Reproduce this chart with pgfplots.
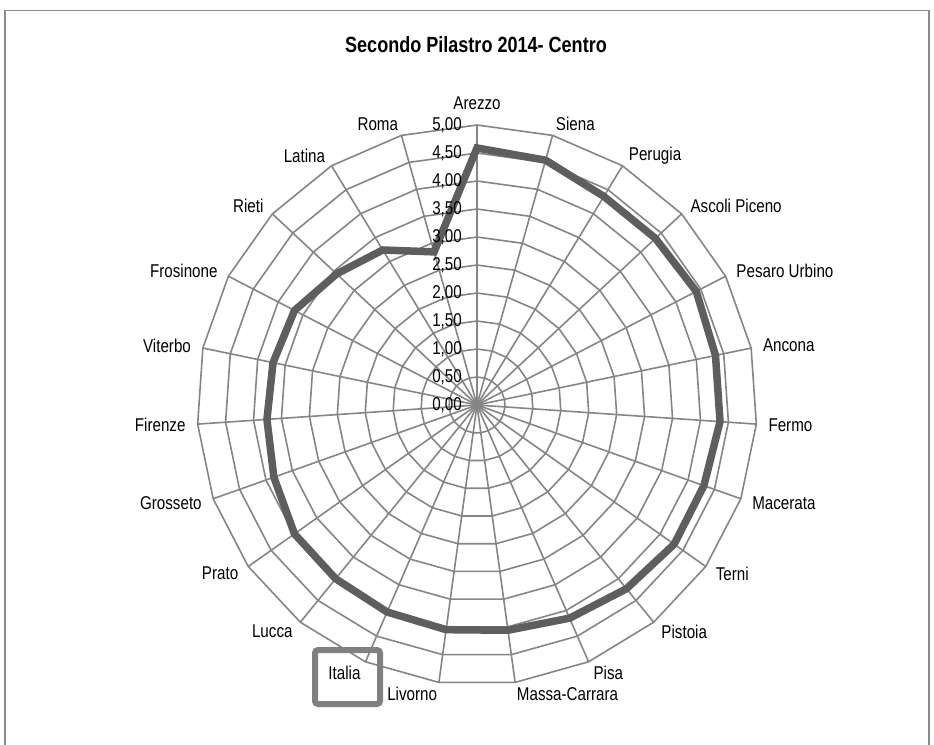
\documentclass[border=0pt]{standalone}
\usepackage{fontspec}
\setmainfont{Liberation Sans}[FakeStretch=0.82]
\usepackage{pgfplots}
\usepackage{pgfplotstable}
\pgfplotsset{compat=1.18}
\usepgfplotslibrary{polar}
\usetikzlibrary{calc}
\definecolor{gridgray}{HTML}{858585}
\definecolor{linegray}{HTML}{5E5E5E}
\definecolor{framegray}{HTML}{8C8C8C}
\definecolor{boxgray}{HTML}{808080}

% idx: position clockwise from the top (Arezzo = 0), 23 categories
\pgfplotstableread{
idx value
0  4.59
1  4.54
2  4.36
3  4.36
4  4.41
5  4.35
6  4.35
7  4.30
8  4.31
9  4.23
10 4.15
11 4.06
12 4.05
13 4.03
14 4.00
15 3.99
16 3.85
17 3.76
18 3.72
19 3.67
20 3.43
21 3.24
22 2.84
}\centro

\begin{document}
\begin{tikzpicture}
\fontsize{18.5}{21}\selectfont
\draw[framegray, line width=1.5pt] (5pt,-10.5pt) rectangle (929pt,-760pt);
\node[font=\fontsize{22}{24}\selectfont\bfseries] at (476pt,-44.5pt) {Secondo Pilastro 2014- Centro};

\begin{polaraxis}[
    hide axis,
    scale only axis,
    width=560pt, height=560pt,
    xmin=0, xmax=360, ymin=0, ymax=5,
    at={(477pt,-405pt)}, anchor=origin,
    clip=false,
]
\pgfplotsextra{
  % polygon rings
  \foreach \r in {0.5,1,...,5} {
    \draw[gridgray, line width=1.6pt, line join=miter] (axis cs:90,\r)
      \foreach \k [evaluate=\k as \a using {90-\k*360/23}] in {1,...,22} { -- (axis cs:\a,\r) } -- cycle;
  }
  % spokes
  \foreach \k [evaluate=\k as \a using {90-\k*360/23}] in {0,...,22} {
    \draw[gridgray, line width=1.6pt] (axis cs:0,0) -- (axis cs:\a,5);
  }
}
\addplot[linegray, line width=7.5pt, line join=miter, mark=none]
  table[x expr={90-\thisrow{idx}*360/23}, y=value] {\centro} -- cycle;
\pgfplotsextra{
  % value labels on the Arezzo spoke
  \foreach \r/\t in {0/{0,00},0.5/{0,50},1/{1,00},1.5/{1,50},2/{2,00},2.5/{2,50},3/{3,00},3.5/{3,50},4/{4,00},4.5/{4,50},5/{5,00}} {
    \node[anchor=east, inner sep=0pt] at ($(axis cs:90,\r)+(-15pt,0)$) {\t};
  }
  \node[anchor=south, inner sep=0pt] at ($(axis cs:90,5)+(0,15pt)$) {Arezzo};
  \foreach \k/\name in {1/Siena,2/Perugia,3/Ascoli Piceno,4/Pesaro Urbino,5/Ancona,6/Fermo,7/Macerata,8/Terni,9/Pistoia,10/Pisa,11/Massa-Carrara} {
    \pgfmathsetmacro\a{90-\k*360/23}
    \node[anchor=west, inner sep=0pt] at ($(axis cs:\a,5)+(\a:12pt)$) {\name};
  }
  \foreach \k/\name in {12/Livorno,13/Italia,14/Lucca,15/Prato,16/Grosseto,17/Firenze,18/Viterbo,19/Frosinone,20/Rieti,21/Latina,22/Roma} {
    \pgfmathsetmacro\a{90-\k*360/23}
    \node[anchor=east, inner sep=0pt] at ($(axis cs:\a,5)+(\a:12pt)$) {\name};
  }
}
\end{polaraxis}

\draw[boxgray, line width=6pt, rounded corners=3pt] (315pt,-650pt) rectangle (380pt,-704pt);

\pgfresetboundingbox
\path[use as bounding box] (0,0) rectangle (934pt,-744pt);
\end{tikzpicture}
\end{document}
